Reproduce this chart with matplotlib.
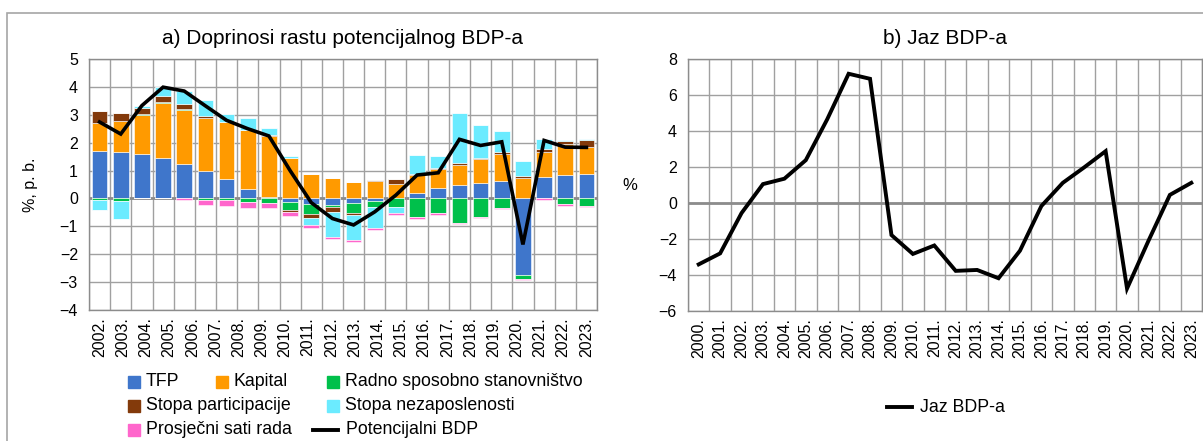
import numpy as np
import matplotlib
matplotlib.use("Agg")
import matplotlib.pyplot as plt
from matplotlib.patches import Rectangle
from matplotlib.lines import Line2D

plt.rcParams['font.family'] = ['Liberation Sans', 'DejaVu Sans']

# ---------------- data ----------------
left_labels = [f"{y}." for y in range(2002, 2024)]
tfp = [1.70, 1.67, 1.60, 1.46, 1.25, 0.98, 0.68, 0.35, 0.05, -0.12, -0.20, -0.23,
       -0.16, -0.09, 0.00, 0.19, 0.36, 0.48, 0.56, 0.64, -2.75, 0.76, 0.83, 0.88]
kapital = [1.02, 1.10, 1.38, 1.96, 1.93, 1.90, 2.05, 2.10, 2.20, 1.44, 0.86, 0.72,
           0.59, 0.62, 0.53, 0.66, 0.69, 0.73, 0.86, 0.97, 0.73, 0.89, 1.12, 0.98]
radno = [-0.07, -0.10, 0.03, 0.04, 0.04, -0.07, -0.05, -0.12, -0.15, -0.29, -0.35, -0.07,
         -0.36, -0.23, -0.32, -0.66, -0.53, -0.88, -0.65, -0.33, -0.13, 0.00, -0.21, -0.28]
participacija = [0.42, 0.29, 0.24, 0.20, 0.16, 0.06, 0.01, 0.02, 0.02, -0.06, -0.14, -0.18,
                 -0.07, 0.04, 0.18, 0.03, 0.05, 0.06, 0.04, 0.04, 0.08, 0.13, 0.10, 0.22]
nezaposlenost = [-0.33, -0.62, 0.06, 0.32, 0.46, 0.58, 0.30, 0.42, 0.27, 0.08, -0.27, -0.90,
                 -0.91, -0.75, -0.21, 0.69, 0.42, 1.80, 1.16, 0.76, 0.52, 0.35, 0.04, 0.05]
sati = [-0.02, -0.02, 0.00, 0.00, -0.04, -0.18, -0.22, -0.24, -0.20, -0.17, -0.11, -0.07,
        -0.06, -0.05, -0.05, -0.06, -0.06, -0.05, -0.05, -0.05, -0.06, -0.06, -0.05, -0.03]
potencijalni = [2.74, 2.31, 3.33, 3.99, 3.85, 3.32, 2.80, 2.50, 2.24, 1.00, -0.15, -0.72,
                -0.95, -0.48, 0.12, 0.84, 0.92, 2.12, 1.90, 2.03, -1.65, 2.08, 1.84, 1.83]

right_labels = [f"{y}." for y in range(2000, 2024)]
jaz = [-3.41, -2.80, -0.56, 1.05, 1.35, 2.38, 4.65, 7.18, 6.90, -1.78, -2.83, -2.36,
       -3.77, -3.72, -4.18, -2.65, -0.17, 1.12, 1.98, 2.88, -4.75, -2.10, 0.45, 1.12]

components = [
    ("TFP", tfp, "#3F76CB"),
    ("Kapital", kapital, "#FF9A00"),
    ("Radno sposobno stanovništvo", radno, "#00C04B"),
    ("Stopa participacije", participacija, "#833A0B"),
    ("Stopa nezaposlenosti", nezaposlenost, "#6BEBFF"),
    ("Prosječni sati rada", sati, "#FF66CC"),
]

# ---------------- figure ----------------
W, H = 1203, 441
fig = plt.figure(figsize=(W / 100, H / 100), dpi=100)

def ax_rect(x0, y0, x1, y1):
    return [x0 / W, 1 - y1 / H, (x1 - x0) / W, (y1 - y0) / H]

# outer border
fig.patches.append(Rectangle((7 / W, -0.1), 1.2, 1 - 13 / H + 0.1, transform=fig.transFigure,
                             fill=False, edgecolor="#A6A6A6", linewidth=1.2))

grid_c = "#A0A0A0"
frame_c = "#8C8C8C"

def style_axes(ax):
    for s in ax.spines.values():
        s.set_color(frame_c)
        s.set_linewidth(1.0)
    ax.tick_params(length=0, labelsize=11.5, colors="black", pad=8)
    ax.tick_params(axis="x", labelsize=11.5, pad=5)

# ----- left chart -----
ax1 = fig.add_axes(ax_rect(89, 59, 597, 310))
n = len(tfp)
x = np.arange(n)
pos_bottom = np.zeros(n)
neg_bottom = np.zeros(n)
for name, vals, col in components:
    v = np.array(vals)
    pv = np.where(v > 0, v, 0)
    nv = np.where(v < 0, v, 0)
    ax1.bar(x, pv, 0.74, bottom=pos_bottom, color=col, edgecolor="white", linewidth=0.4, zorder=3)
    ax1.bar(x, nv, 0.74, bottom=neg_bottom, color=col, edgecolor="white", linewidth=0.4, zorder=3)
    pos_bottom += pv
    neg_bottom += nv
ax1.plot(x, potencijalni, color="black", linewidth=2.6, zorder=4, solid_joinstyle="miter")
ax1.set_xlim(-0.5, n - 0.5)
ax1.set_ylim(-4, 5)
ax1.set_yticks(range(-4, 6))
ax1.set_xticks(np.linspace(0, n - 1, len(left_labels)))
ax1.set_xticklabels(left_labels, rotation=90)
for b in np.arange(-0.5, n, 1.0):
    ax1.axvline(b, color=grid_c, linewidth=1.0, zorder=1)
for yv in range(-4, 6):
    ax1.axhline(yv, color=grid_c, linewidth=1.0, zorder=1)
ax1.axhline(0, color="#8C8C8C", linewidth=2.0, zorder=2)
style_axes(ax1)
ax1.set_title("a) Doprinosi rastu potencijalnog BDP-a", fontsize=15, pad=11)
fig.text(30 / W, 1 - 185 / H, "%, p. b.", rotation=90, ha="center", va="center", fontsize=11.5)

# ----- right chart -----
ax2 = fig.add_axes(ax_rect(688, 59, 1202, 311))
m = len(jaz)
xr = np.arange(m)
ax2.plot(xr, jaz, color="black", linewidth=2.8, zorder=4, solid_joinstyle="miter")
ax2.set_xlim(-0.5, m - 0.5)
ax2.set_ylim(-6, 8)
ax2.set_yticks(range(-6, 9, 2))
ax2.set_xticks(xr)
ax2.set_xticklabels(right_labels, rotation=90)
for b in np.arange(-0.5, m, 1.0):
    ax2.axvline(b, color=grid_c, linewidth=1.0, zorder=1)
for yv in range(-6, 9, 2):
    ax2.axhline(yv, color=grid_c, linewidth=1.0, zorder=1)
ax2.axhline(0, color="#8C8C8C", linewidth=2.0, zorder=2)
style_axes(ax2)
ax2.set_title("b) Jaz BDP-a", fontsize=15, pad=11)
fig.text(630 / W, 1 - 185 / H, "%", ha="center", va="center", fontsize=12)

# ----- legends (manual, Excel-like flow) -----
def leg_patch(px, py, color, label):
    fig.patches.append(Rectangle(((px) / W, 1 - (py + 6) / H), 12 / W, 12 / H,
                                 transform=fig.transFigure, color=color))
    fig.text((px + 18) / W, 1 - py / H, label, ha="left", va="center", fontsize=12.8)

def leg_line(px, py, label, length=25):
    fig.lines.append(Line2D([px / W, (px + length) / W], [1 - py / H, 1 - py / H],
                            transform=fig.transFigure, color="black", linewidth=2.8))
    fig.text((px + length + 8) / W, 1 - py / H, label, ha="left", va="center", fontsize=12.8)

cols = {c[0]: c[2] for c in components}
leg_patch(128, 382, cols["TFP"], "TFP")
leg_patch(216, 382, cols["Kapital"], "Kapital")
leg_patch(327, 382, cols["Radno sposobno stanovništvo"], "Radno sposobno stanovništvo")
leg_patch(128, 406, cols["Stopa participacije"], "Stopa participacije")
leg_patch(327, 406, cols["Stopa nezaposlenosti"], "Stopa nezaposlenosti")
leg_patch(128, 430, cols["Prosječni sati rada"], "Prosječni sati rada")
leg_line(313, 430, "Potencijalni BDP")

leg_line(887, 407, "Jaz BDP-a")

fig.savefig("out.png", dpi=100)
